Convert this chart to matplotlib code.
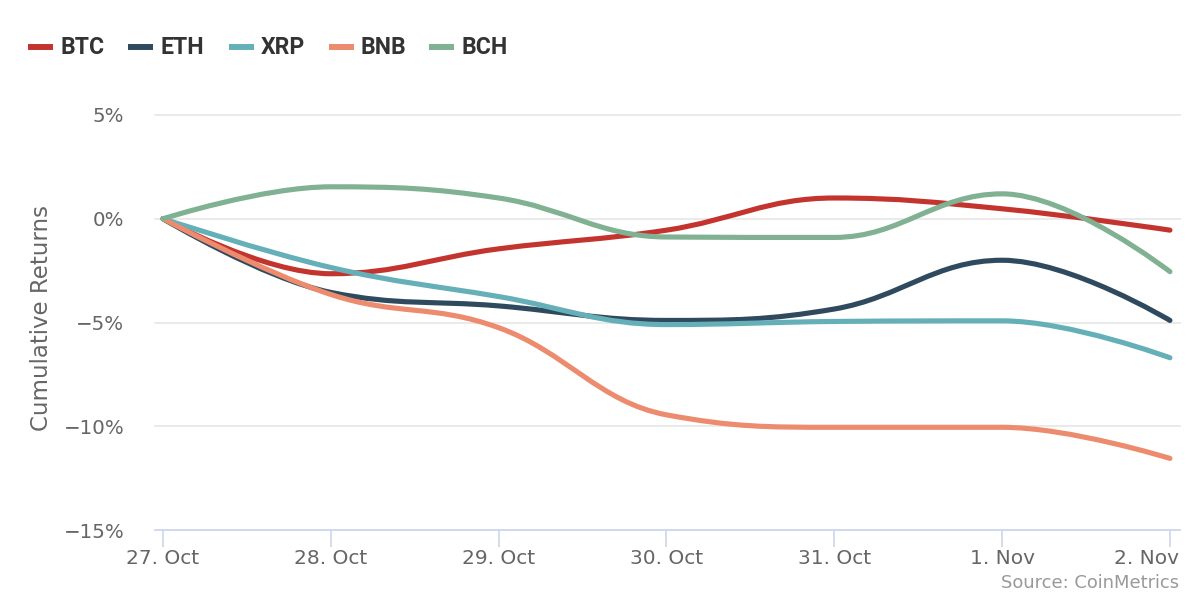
import matplotlib.pyplot as plt
from matplotlib.path import Path
from matplotlib.patches import PathPatch
from matplotlib.lines import Line2D
import matplotlib.transforms as mtransforms

plt.rcParams["font.family"] = ["DejaVu Sans"]

dates = ["27. Oct", "28. Oct", "29. Oct", "30. Oct", "31. Oct", "1. Nov", "2. Nov"]
btc = [0.0, -2.65, -1.45, -0.55, 1.0, 0.48, -0.55]
eth = [0.0, -3.55, -4.2, -4.9, -4.35, -2.0, -4.9]
xrp = [0.0, -2.35, -3.75, -5.1, -4.95, -4.92, -6.7]
bnb = [0.0, -3.65, -5.25, -9.45, -10.05, -10.05, -11.55]
bch = [0.0, 1.54, 1.0, -0.88, -0.9, 1.2, -2.55]

series = [("BTC", btc, "#c4342f"),
          ("ETH", eth, "#2f4a5e"),
          ("XRP", xrp, "#65b0b8"),
          ("BNB", bnb, "#ec8b6d"),
          ("BCH", bch, "#80b192")]

yticks = [5, 0, -5, -10, -15]


def spline_path(xs, ys, smoothing=1.5):
    # highcharts-style spline: cubic bezier with smoothed control points
    n = len(xs)
    left = [None] * n
    right = [None] * n
    denom = smoothing + 1
    for i in range(1, n - 1):
        px, py = xs[i], ys[i]
        lx, ly = xs[i - 1], ys[i - 1]
        nx, ny = xs[i + 1], ys[i + 1]
        lcx = (smoothing * px + lx) / denom
        lcy = (smoothing * py + ly) / denom
        rcx = (smoothing * px + nx) / denom
        rcy = (smoothing * py + ny) / denom
        corr = 0
        if rcx != lcx:
            corr = (rcy - lcy) * (rcx - px) / (rcx - lcx) + py - rcy
        lcy += corr
        rcy += corr
        if lcy > ly and lcy > py:
            lcy = max(ly, py)
            rcy = 2 * py - lcy
        elif lcy < ly and lcy < py:
            lcy = min(ly, py)
            rcy = 2 * py - lcy
        if rcy > ny and rcy > py:
            rcy = max(ny, py)
            lcy = 2 * py - rcy
        elif rcy < ny and rcy < py:
            rcy = min(ny, py)
            lcy = 2 * py - rcy
        left[i] = (lcx, lcy)
        right[i] = (rcx, rcy)

    verts = [(xs[0], ys[0])]
    codes = [Path.MOVETO]
    for i in range(1, n):
        c1 = right[i - 1] or (xs[i - 1], ys[i - 1])
        c2 = left[i] or (xs[i], ys[i])
        verts += [c1, c2, (xs[i], ys[i])]
        codes += [Path.CURVE4] * 3
    return Path(verts, codes)


fig = plt.figure(figsize=(12, 6), dpi=100)
ax = fig.add_axes([155 / 1200, 1 - 530 / 600, 1025 / 1200, 415 / 600])

x = list(range(len(dates)))
for name, vals, color in series:
    patch = PathPatch(spline_path(x, vals), facecolor="none", edgecolor=color,
                      lw=3.7, capstyle="round", joinstyle="round", zorder=3)
    ax.add_patch(patch)

ax.set_xlim(-0.048, 6.06)
ax.set_ylim(-15, 5)

ax.set_yticks(yticks)
ax.set_yticklabels([f"{v}%".replace("-", "\u2212") for v in yticks])
ax.grid(axis="y", color="#e6e6e6", lw=1.2, zorder=0)
for gl in ax.yaxis.get_gridlines():
    gl.set_clip_on(False)
ax.set_axisbelow(True)
ax.tick_params(axis="y", length=0, pad=22, labelsize=14.3, labelcolor="#666666")

ax.set_xticks(x)
ax.set_xticklabels(dates)
ax.tick_params(axis="x", length=12, width=1.2, color="#ccd6eb", pad=2,
               labelsize=14.5, labelcolor="#666666")
last = ax.get_xticklabels()[-1]
last.set_horizontalalignment("right")
last.set_transform(last.get_transform() +
                   mtransforms.ScaledTranslation(9 / 100, 0, fig.dpi_scale_trans))

for side in ["top", "right", "left"]:
    ax.spines[side].set_visible(False)
ax.spines["bottom"].set_color("#ccd6eb")
ax.spines["bottom"].set_linewidth(1.2)

ax.set_ylabel("Cumulative Returns", fontsize=16.5, color="#666666")
ax.yaxis.set_label_coords(-0.1, 0.51)

# legend across the top
for i, (name, vals, color) in enumerate(series):
    x0 = 28 + i * 100.3
    fig.add_artist(Line2D([x0 / 1200, (x0 + 25) / 1200], [1 - 47 / 600] * 2,
                          color=color, lw=4.3, solid_capstyle="butt"))
    fig.text((x0 + 32) / 1200, 1 - 47 / 600, name, fontsize=16.6, fontweight="bold",
             family=["Roboto", "DejaVu Sans"],
             color="#333333", va="center", ha="left")

fig.text(1179 / 1200, 1 - 583 / 600, "Source: CoinMetrics", fontsize=12.9,
         color="#999999", ha="right", va="center")

fig.savefig("out.png", dpi=100)
